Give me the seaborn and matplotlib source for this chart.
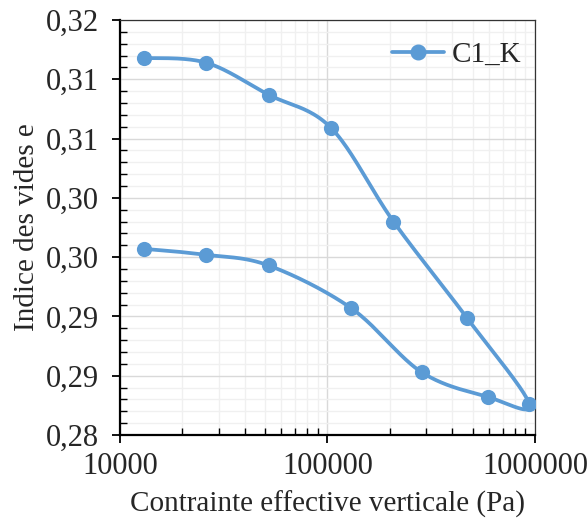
"""Courbe oedométrique C1_K : indice des vides vs contrainte effective."""

import matplotlib

matplotlib.use("Agg")
import matplotlib.pyplot as plt
import numpy as np
import pandas as pd
import seaborn as sns
from matplotlib.ticker import FuncFormatter, LogLocator, MultipleLocator, NullFormatter

# Chargement puis déchargement
contrainte_pa = [13000, 26000, 52000, 104000, 208000, 469000, 939000,
                 596000, 284000, 130000, 52000, 26000, 13000]
indice_vides = [0.3118, 0.3114, 0.3087, 0.3059, 0.2980, 0.2899, 0.2826,
                0.2832, 0.2853, 0.2907, 0.2943, 0.2952, 0.2957]
nom_serie = "C1_K"

X_MIN, X_MAX = 1e4, 1e6
Y_MIN, Y_MAX = 0.28, 0.315
BLEU = "#5B9BD5"


def lissage_excel(x, y, n=40):
    """Courbe lissée type Excel (Bézier, tangentes de Catmull-Rom) en espace écran."""
    u = (np.log10(x) - np.log10(X_MIN)) / (np.log10(X_MAX) - np.log10(X_MIN))
    v = (np.asarray(y) - Y_MIN) / (Y_MAX - Y_MIN)
    p = np.column_stack([u, v])
    p_ext = np.vstack([p[0], p, p[-1]])
    t = np.linspace(0, 1, n)[:, None]
    morceaux = []
    for i in range(len(p) - 1):
        p0, p1, p2, p3 = p_ext[i], p_ext[i + 1], p_ext[i + 2], p_ext[i + 3]
        c1 = p1 + (p2 - p0) / 6
        c2 = p2 - (p3 - p1) / 6
        seg = ((1 - t) ** 3) * p1 + 3 * ((1 - t) ** 2) * t * c1 + 3 * (1 - t) * t**2 * c2 + t**3 * p2
        morceaux.append(seg if i == 0 else seg[1:])
    courbe = np.vstack(morceaux)
    xs = 10 ** (np.log10(X_MIN) + courbe[:, 0] * (np.log10(X_MAX) - np.log10(X_MIN)))
    ys = Y_MIN + courbe[:, 1] * (Y_MAX - Y_MIN)
    return xs, ys


sns.set_theme(style="white")
plt.rcParams["font.family"] = ["Liberation Serif", "DejaVu Serif"]
plt.rcParams["font.size"] = 21

df_points = pd.DataFrame({"sigma": contrainte_pa, "e": indice_vides})
xs, ys = lissage_excel(contrainte_pa, indice_vides)
df_courbe = pd.DataFrame({"sigma": xs, "e": ys})

fig = plt.figure(figsize=(5.87, 5.26), dpi=100)
ax = fig.add_axes([0.2044, 0.173, 0.707, 0.789])

sns.lineplot(data=df_courbe, x="sigma", y="e", sort=False, estimator=None,
             color=BLEU, linewidth=2.7, ax=ax, zorder=3)
sns.scatterplot(data=df_points, x="sigma", y="e", color=BLEU, s=120,
                edgecolor=BLEU, linewidth=0, ax=ax, zorder=4)

ax.set_xscale("log")
ax.set_xlim(X_MIN, X_MAX)
ax.set_ylim(Y_MIN, Y_MAX)

ax.xaxis.set_major_locator(LogLocator(base=10, numticks=10))
ax.xaxis.set_minor_locator(LogLocator(base=10, subs=np.arange(2, 10), numticks=10))
ax.xaxis.set_minor_formatter(NullFormatter())
ax.xaxis.set_major_formatter(FuncFormatter(lambda v, _: f"{v:.0f}"))

ax.yaxis.set_major_locator(MultipleLocator(0.005))
ax.yaxis.set_minor_locator(MultipleLocator(0.001))
ax.yaxis.set_major_formatter(FuncFormatter(lambda v, _: format(v + 1e-9, ".2f").replace(".", ",")))

ax.grid(True, which="major", color="#D9D9D9", linewidth=1.0)
ax.grid(True, which="minor", color="#F0F0F0", linewidth=1.0)
ax.set_axisbelow(True)

ax.tick_params(which="major", direction="out", length=6, width=1.3, color="black",
               labelsize=22, pad=6, left=True, bottom=True)
ax.tick_params(axis="y", which="major", pad=9)
ax.tick_params(which="minor", direction="in", length=5, width=1.0, color="black",
               left=True, bottom=True)

for cote in ["left", "bottom"]:
    ax.spines[cote].set_color("black")
    ax.spines[cote].set_linewidth(1.6)
for cote in ["top", "right"]:
    ax.spines[cote].set_color("#333333")
    ax.spines[cote].set_linewidth(0.9)

ax.set_xlabel("Contrainte effective verticale (Pa)", fontsize=21, labelpad=7)
ax.set_ylabel("Indice des vides e", fontsize=21, labelpad=4)

poignee = plt.Line2D([], [], color=BLEU, linewidth=2.7, marker="o", markersize=10.5)
ax.legend([poignee], [nom_serie], loc="center left", bbox_to_anchor=(0.655, 0.916),
          frameon=False, fontsize=21, handlelength=1.8, handletextpad=0.25,
          borderpad=0, borderaxespad=0)

fig.savefig("out.png", dpi=100)
